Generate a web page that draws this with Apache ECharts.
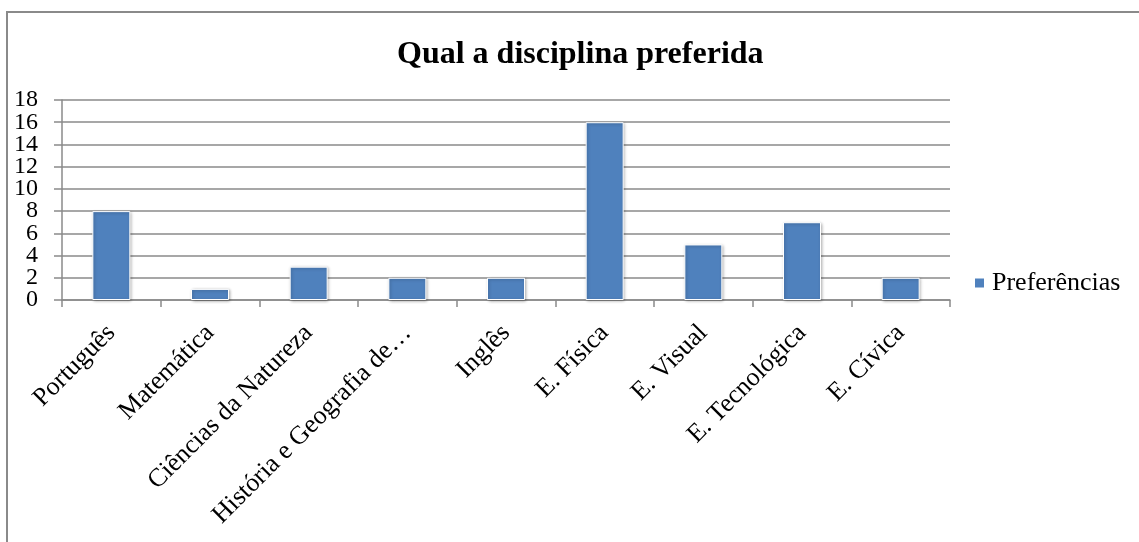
<!DOCTYPE html>
<html>
<head>
<meta charset="utf-8">
<script src="https://cdn.jsdelivr.net/npm/echarts@6/dist/echarts.min.js"></script>
<style>
  html, body { margin: 0; padding: 0; background: #fff; }
  #main { width: 1139px; height: 542px; }
</style>
</head>
<body>
<div id="main"></div>
<script>
// dados do gráfico
var disciplinas = ['Português', 'Matemática', 'Ciências da Natureza', 'História e Geografia de Portugal',
  'Inglês', 'E. Física', 'E. Visual', 'E. Tecnológica', 'E. Cívica'];
var preferencias = [8, 1, 3, 2, 2, 16, 5, 7, 2];
var yTicks = ['0', '2', '4', '6', '8', '10', '12', '14', '16', '18'];
var yMin = 0, yMax = 18, yStep = 2;

var serif = '"Liberation Serif", "Times New Roman", serif';
var gridColor = '#8a8a8a';

var chart = echarts.init(document.getElementById('main'));

var option = {
  backgroundColor: '#fff',
  animation: false,
  title: {
    text: 'Qual a disciplina preferida',
    left: 392,
    top: 34,
    textStyle: { fontFamily: serif, fontSize: 32, fontWeight: 'bold', color: '#000' }
  },
  legend: {
    data: ['Preferências'],
    left: 968,
    top: 265,
    itemWidth: 11,
    itemHeight: 11,
    icon: 'rect',
    textStyle: { fontFamily: serif, fontSize: 26, color: '#000', padding: [0, 0, 0, 2] }
  },
  grid: { left: 62, right: 189, top: 100, bottom: 242, containLabel: false },
  xAxis: {
    type: 'category',
    data: disciplinas,
    boundaryGap: true,
    axisLine: { lineStyle: { color: gridColor, width: 1.5 } },
    axisTick: { show: true, length: 7, lineStyle: { color: gridColor, width: 1.5 } },
    axisLabel: {
      rotate: 45,
      interval: 0,
      margin: 29,
      hideOverlap: false,
      fontFamily: serif,
      fontSize: 26,
      color: '#000',
      formatter: function (v) {
        return v.length > 24 ? v.slice(0, 23) + '…' : v;
      }
    }
  },
  yAxis: [
    {
      type: 'value',
      min: yMin,
      max: yMax,
      interval: yStep,
      axisLine: { show: true, lineStyle: { color: gridColor, width: 1.5 } },
      axisTick: { show: true, length: 8, lineStyle: { color: gridColor, width: 1.5 } },
      splitLine: { show: true, lineStyle: { color: gridColor, width: 1.5 } },
      axisLabel: { show: false }
    },
    {
      // rótulos do eixo Y (todos visíveis)
      type: 'category',
      data: yTicks,
      position: 'left',
      boundaryGap: false,
      axisLine: { show: false },
      axisTick: { show: false },
      splitLine: { show: false },
      axisLabel: {
        interval: 0,
        margin: 24,
        fontFamily: serif,
        fontSize: 24,
        color: '#000'
      }
    }
  ],
  series: [
    {
      name: 'Preferências',
      type: 'bar',
      yAxisIndex: 0,
      data: preferencias,
      barWidth: 38,
      itemStyle: {
        color: '#4f81bd',
        borderColor: '#ffffff',
        borderWidth: 1,
        shadowBlur: 3,
        shadowColor: 'rgba(0,0,0,0.3)',
        shadowOffsetX: 1,
        shadowOffsetY: 1
      }
    }
  ],
  graphic: [
    {
      type: 'rect',
      shape: { x: 7, y: 12, width: 1300, height: 700 },
      style: { fill: 'none', stroke: '#8a8a8a', lineWidth: 2 },
      silent: true
    }
  ]
};

chart.setOption(option);
</script>
</body>
</html>
